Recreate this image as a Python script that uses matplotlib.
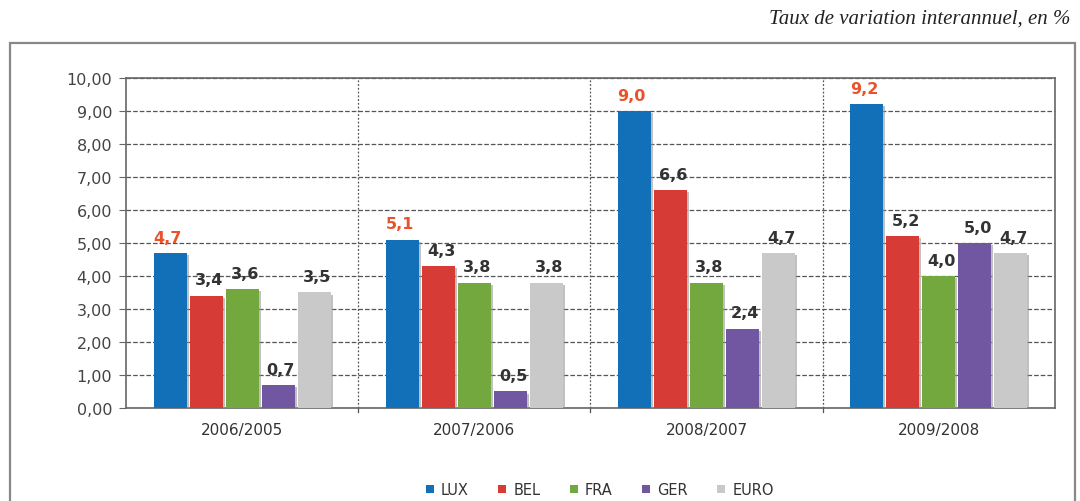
import numpy as np
import matplotlib
matplotlib.use('Agg')
from matplotlib import pyplot as plt
from matplotlib.ticker import FuncFormatter, MultipleLocator
from matplotlib.patches import Rectangle, Patch
import matplotlib.patheffects as pe

periods = ['2006/2005', '2007/2006', '2008/2007', '2009/2008']
series = ['LUX', 'BEL', 'FRA', 'GER', 'EURO']
lux = [4.7, 5.1, 9.0, 9.2]
bel = [3.4, 4.3, 6.6, 5.2]
fra = [3.6, 3.8, 3.8, 4.0]
ger = [0.7, 0.5, 2.4, 5.0]
euro = [3.5, 3.8, 4.7, 4.7]
colors = ['#1170b8', '#d63b35', '#72a83d', '#7156a1', '#c9c9c9']


def comma(v, pos=None):
	return ('%.2f' % v).replace('.', ',')


def main():
	fig = plt.figure(figsize=(10.8, 5.02), dpi=100)
	ax = fig.add_axes([0.1167, 0.1853, 0.860, 0.6574])

	x = np.arange(len(periods))
	step = 0.155
	width = 0.142
	shadow = [pe.SimplePatchShadow(offset=(1.5, -1.5), shadow_rgbFace='#999999', alpha=0.6), pe.Normal()]
	for i, (name, vals) in enumerate(zip(series, [lux, bel, fra, ger, euro])):
		pos = x + (i - 2) * step
		bars = ax.bar(pos, vals, width, color=colors[i], zorder=3)
		for b in bars:
			b.set_path_effects(shadow)
		for p, v in zip(pos, vals):
			col = '#e8532b' if name == 'LUX' else '#333333'
			ax.annotate(('%.1f' % v).replace('.', ','), (p, v), xytext=(2 if name != 'LUX' else -2, 6),
				textcoords='offset points', ha='center', va='bottom',
				fontsize=11.5, fontweight='bold', color=col, zorder=4)

	ax.set_xlim(-0.5, len(periods) - 0.5)
	ax.set_ylim(0, 10)
	ax.yaxis.set_major_locator(MultipleLocator(1))
	ax.yaxis.set_major_formatter(FuncFormatter(comma))
	ax.set_xticks(x)
	ax.set_xticklabels(periods)
	ax.tick_params(axis='x', length=0, pad=10, labelsize=11, colors='#333333')
	ax.tick_params(axis='y', length=5, color='#666666', labelsize=11.5, colors='#444444', pad=5)
	ax.grid(axis='y', linestyle='--', color='#555555', linewidth=0.9, zorder=0)
	for b in x[:-1] + 0.5:
		ax.axvline(b, linestyle=(0, (1.5, 1.5)), color='#555555', linewidth=0.9, zorder=0)
		ax.plot([b, b], [0, -0.12], color='#555555', linewidth=0.9, clip_on=False)
	for s in ax.spines.values():
		s.set_color('#666666')
		s.set_linewidth(1.2)

	handles = [Patch(facecolor=c, label=n) for c, n in zip(colors, series)]
	ax.legend(handles=handles, loc='upper center', bbox_to_anchor=(0.51, -0.185), ncol=5, frameon=False,
		handlelength=0.55, handleheight=0.55, handletextpad=0.5, columnspacing=2.0, fontsize=10.5,
		labelcolor='#333333')

	# outer frame of the chart
	fig.patches.append(Rectangle((0.0093, -0.05), 0.986, 0.962, transform=fig.transFigure,
		fill=False, edgecolor='#888888', linewidth=1.6))
	fig.text(0.991, 0.98, 'Taux de variation interannuel, en %', ha='right', va='top',
		family='Liberation Serif', style='italic', fontsize=15, color='#222222')

	plt.savefig('out.png', dpi=100)


if __name__ == '__main__':
	main()
